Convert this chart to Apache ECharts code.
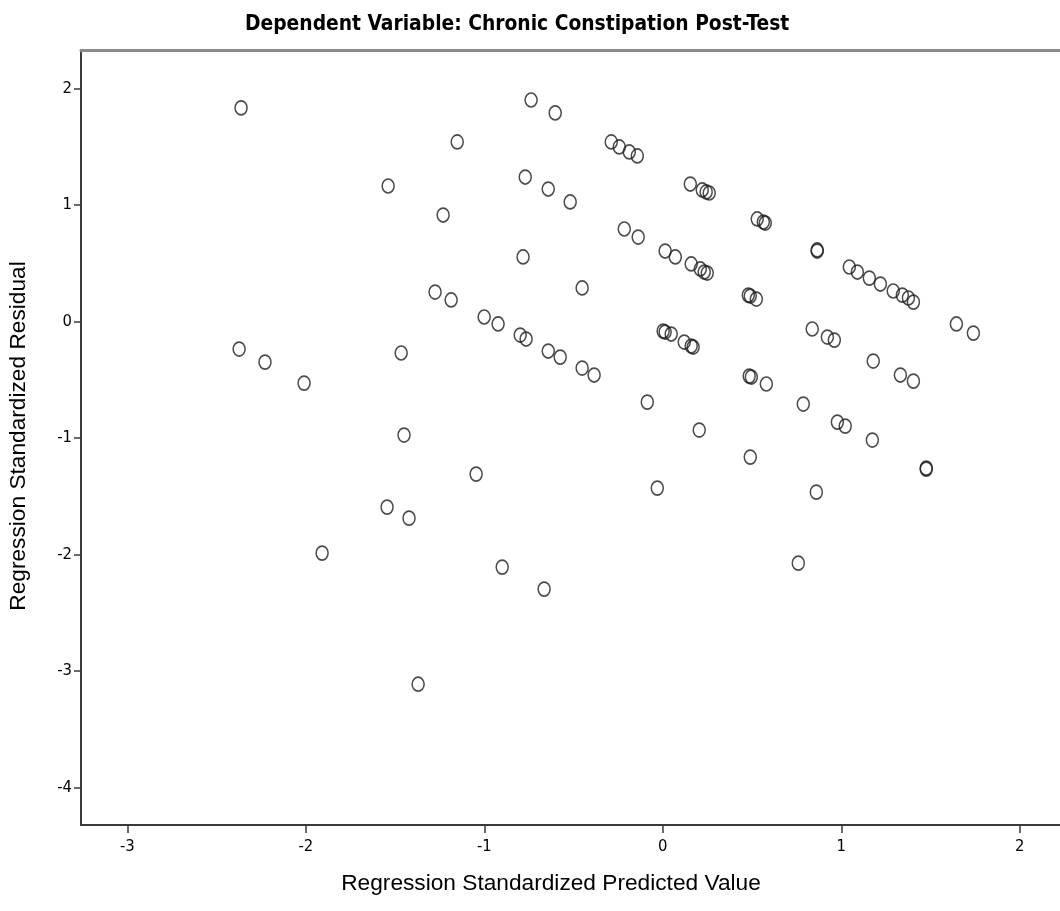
<!DOCTYPE html>
<html>
<head>
<meta charset="utf-8">
<script src="https://cdn.jsdelivr.net/npm/echarts@6/dist/echarts.min.js"></script>
<style>
  html, body { margin: 0; padding: 0; background: #ffffff; }
  #chart { width: 1060px; height: 911px; }
</style>
</head>
<body>
<div id="chart"></div>
<script>
// Scatterplot of standardized residuals against standardized predicted values
const chartTitle = 'Dependent Variable: Chronic Constipation Post-Test';
const xTitle = 'Regression Standardized Predicted Value';
const yTitle = 'Regression Standardized Residual';

const xTicks = [-3, -2, -1, 0, 1, 2];
const yTicks = [-4, -3, -2, -1, 0, 1, 2];

const predicted = [
  -2.363, -1.152, -0.738, -0.603, -0.289, -0.244, -0.188, -0.143,
  -1.539, -0.771, -0.642, -0.519, 0.154, 0.221, 0.243, 0.260,
  0.529, 0.563, 0.574, 0.865, 0.865,
  -1.231, -0.783, -0.216, -0.138, 0.013, 0.070, 0.159, 0.210, 0.232, 0.249,
  1.045, 1.090, 1.157, 1.219, 1.291, 1.342, 1.376, 1.404,
  0.479, 0.490, 0.524,
  -1.276, -1.186, -0.452, -1.001, -0.923, -0.799, -0.766, -0.642, -0.575, -0.452, -0.385,
  0.002, 0.013, 0.047, 0.120, 0.159, 0.170,
  0.837, 0.922, 0.961, 1.179, 1.331, 1.404, 1.645, 1.740,
  0.484, 0.496, 0.580, 0.787, 0.978, 1.022, 1.174, 1.476, 1.476,
  0.860, 0.759, -0.087, 0.204, 0.490, -0.031,
  -2.374, -2.229, -2.010, -1.466, -1.450, -1.046, -1.545, -1.422, -1.909, -1.371,
  -0.900, -0.665
];

const residual = [
  1.833, 1.541, 1.901, 1.790, 1.541, 1.498, 1.455, 1.421,
  1.163, 1.240, 1.137, 1.026, 1.180, 1.129, 1.112, 1.103,
  0.880, 0.854, 0.845, 0.614, 0.605,
  0.914, 0.554, 0.794, 0.725, 0.605, 0.554, 0.494, 0.451, 0.425, 0.416,
  0.468, 0.425, 0.373, 0.322, 0.262, 0.227, 0.202, 0.167,
  0.227, 0.219, 0.193,
  0.253, 0.185, 0.288, 0.039, -0.021, -0.116, -0.150, -0.253, -0.305, -0.399, -0.459,
  -0.082, -0.090, -0.107, -0.176, -0.210, -0.219,
  -0.064, -0.133, -0.159, -0.339, -0.459, -0.511, -0.021, -0.099,
  -0.468, -0.476, -0.536, -0.708, -0.863, -0.897, -1.017, -1.258, -1.266,
  -1.464, -2.073, -0.691, -0.931, -1.163, -1.429,
  -0.236, -0.348, -0.528, -0.270, -0.974, -1.309, -1.592, -1.687, -1.987, -3.112,
  -2.107, -2.296
];

const points = predicted.map((x, i) => [x, residual[i]]);

const narrow = '"Liberation Sans Narrow", "DejaVu Sans Condensed", "Liberation Sans", sans-serif';
const regular = '"Liberation Sans", Arial, sans-serif';

const chart = echarts.init(document.getElementById('chart'), null, { renderer: 'canvas' });

chart.setOption({
  backgroundColor: '#ffffff',
  animation: false,
  title: {
    text: chartTitle,
    left: 240,
    top: 9,
    textStyle: {
      fontFamily: narrow,
      fontWeight: 'bold',
      fontSize: 20.8,
      color: '#000000'
    }
  },
  grid: {
    left: 81,
    top: 50,
    width: 1028,
    height: 775,
    containLabel: false,
    outerBoundsMode: 'none'
  },
  xAxis: [
    {
      type: 'value',
      min: -3.26,
      max: 2.5,
      position: 'bottom',
      splitLine: { show: false },
      axisLine: { show: true, onZero: false, lineStyle: { color: '#3a3a3a', width: 2 } },
      axisTick: {
        show: true,
        length: 8,
        inside: false,
        customValues: xTicks,
        lineStyle: { color: '#3a3a3a', width: 1.5 }
      },
      axisLabel: {
        show: true,
        customValues: xTicks,
        margin: 13,
        fontFamily: narrow,
        fontSize: 16.5,
        color: '#000000'
      }
    },
    {
      type: 'value',
      min: -3.26,
      max: 2.5,
      position: 'top',
      splitLine: { show: false },
      axisLine: { show: true, onZero: false, lineStyle: { color: '#8a8a8a', width: 3 } },
      axisTick: { show: false },
      axisLabel: { show: false }
    }
  ],
  yAxis: {
    type: 'value',
    min: -4.32,
    max: 2.33,
    splitLine: { show: false },
    axisLine: { show: true, onZero: false, lineStyle: { color: '#3a3a3a', width: 2 } },
    axisTick: {
      show: true,
      length: 7,
      customValues: yTicks,
      lineStyle: { color: '#3a3a3a', width: 1.5 }
    },
    axisLabel: {
      show: true,
      customValues: yTicks,
      margin: 9,
      fontFamily: narrow,
      fontSize: 16.5,
      color: '#000000'
    }
  },
  graphic: [
    {
      type: 'text',
      x: 551,
      y: 872,
      style: {
        text: xTitle,
        font: '22.7px ' + regular,
        fill: '#000000',
        textAlign: 'center',
        textVerticalAlign: 'top'
      }
    },
    {
      type: 'text',
      x: 7,
      y: 436,
      rotation: Math.PI / 2,
      style: {
        text: yTitle,
        font: '22.7px ' + regular,
        fill: '#000000',
        textAlign: 'center',
        textVerticalAlign: 'top'
      }
    }
  ],
  series: [
    {
      type: 'scatter',
      xAxisIndex: 0,
      data: points,
      symbol: 'circle',
      symbolSize: [12, 14],
      itemStyle: {
        color: 'rgba(255,255,255,0)',
        borderColor: '#1e1e1e',
        borderWidth: 1.6
      },
      emphasis: { disabled: true }
    }
  ]
});
</script>
</body>
</html>
